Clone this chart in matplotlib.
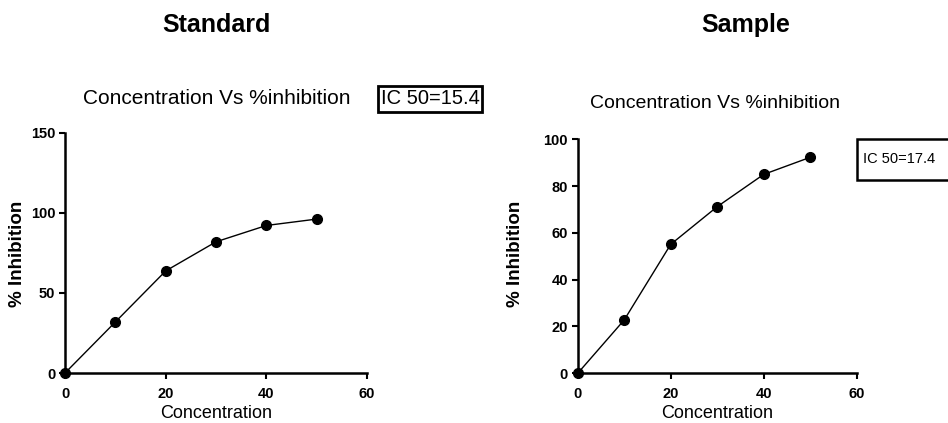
import matplotlib
matplotlib.use("Agg")
import matplotlib.pyplot as plt
from matplotlib.patches import Rectangle

# datos
concentracion = [0, 10, 20, 30, 40, 50]
inhibicion_standard = [0, 31.9, 63.8, 82.0, 92.2, 96.2]
inhibicion_sample = [0, 22.8, 55.1, 71.2, 85.0, 92.3]

ticks_x = [0, 20, 40, 60]
ticks_y_standard = [0, 50, 100, 150]
ticks_y_sample = [0, 20, 40, 60, 80, 100]

plt.rcParams['font.family'] = ['Liberation Sans', 'DejaVu Sans']

fig = plt.figure(figsize=(9.48, 4.23), dpi=100)

def dibujar(ax, y, yticks, ymax):
    ax.plot(concentracion, y, color="black", lw=1, marker="o", ms=7,
            clip_on=False, zorder=3)
    ax.set_xlim(0, 60)
    ax.set_ylim(0, ymax)
    ax.set_xticks(ticks_x)
    ax.set_yticks(yticks)
    for s in ["top", "right"]:
        ax.spines[s].set_visible(False)
    for s in ["left", "bottom"]:
        ax.spines[s].set_linewidth(1.8)
    ax.tick_params(direction="out", length=4, width=1.5, labelsize=10.5, pad=3)
    ax.tick_params(axis="x", pad=6)
    for lab in ax.get_xticklabels() + ax.get_yticklabels():
        lab.set_fontweight("bold")

# grafico estandar
ax1 = fig.add_axes([0.0686, 0.1182, 0.3186, 0.5674])
dibujar(ax1, inhibicion_standard, ticks_y_standard, 150)

# grafico muestra
ax2 = fig.add_axes([0.6094, 0.1175, 0.2943, 0.5532])
dibujar(ax2, inhibicion_sample, ticks_y_sample, 100)

# titulos
fig.text(216/948, 1-25/423, "Standard", ha="center", va="center",
         fontsize=18, fontweight="bold")
fig.text(746/948, 1-25/423, "Sample", ha="center", va="center",
         fontsize=18, fontweight="bold")

fig.text(217/948, 1-99/423, "Concentration Vs %inhibition", ha="center",
         va="center", fontsize=15)
fig.text(715/948, 1-103/423, "Concentration Vs %inhibition", ha="center",
         va="center", fontsize=14)

# cajas IC50
fig.text(430/948, 1-99/423, "IC 50=15.4", ha="center", va="center",
         fontsize=14.5,
         bbox=dict(boxstyle="square,pad=0.15", facecolor="white",
                   edgecolor="black", linewidth=2))
# la caja de la derecha queda cortada por el borde, como en el original
caja = Rectangle((857/948, 1-180/423), 0.15, 41/423, transform=fig.transFigure,
                 facecolor="white", edgecolor="black", linewidth=1.8)
fig.patches.append(caja)
fig.text(863/948, 1-159/423, "IC 50=17.4", ha="left", va="center",
         fontsize=10.5)

# etiquetas de ejes
for x0, x1 in [(65, 367), (578, 857)]:
    fig.text((x0+x1)/2/948, 1-413/423, "Concentration", ha="center",
             va="center", fontsize=13)
fig.text(18/948, 1-254/423, "% Inhibition", rotation=90, ha="center",
         va="center", fontsize=13.5, fontweight="bold")
fig.text(515/948, 1-254/423, "% Inhibition", rotation=90, ha="center",
         va="center", fontsize=13.5, fontweight="bold")

plt.savefig("out.png", dpi=100)
